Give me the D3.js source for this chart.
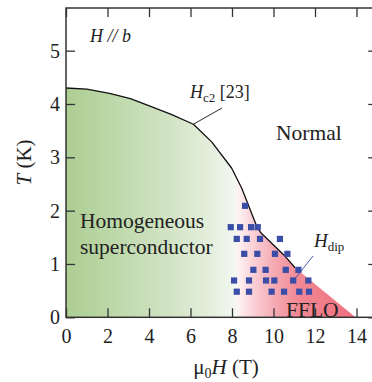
<!DOCTYPE html>
<html>
<head>
<meta charset="utf-8">
<script src="https://cdn.jsdelivr.net/npm/d3@7"></script>
<style>
  html, body { margin: 0; padding: 0; background: #fff; }
  svg { display: block; }
</style>
</head>
<body>
<svg id="chart" width="372" height="382"></svg>
<script>
// Upper critical field Hc2(T) for H // b  (field in tesla, temperature in kelvin)
const hc2Field = [0, 1.0, 2.1, 3.1, 4.05, 5.1, 6.14, 7.02, 7.98, 8.47, 9.2, 9.4, 10.5, 11.04];
const hc2Temp  = [4.3, 4.28, 4.2, 4.1, 3.96, 3.8, 3.62, 3.29, 2.80, 2.42, 1.70, 1.58, 1.17, 0.93];

// FFLO phase boundary continues down to zero temperature
const ffloEdgeField = [11.04, 13.95];
const ffloEdgeTemp  = [0.93, 0];

// Positions of the dip field Hdip
const dipField = [8.63,
  7.94, 8.39, 8.92, 9.24,
  8.23, 8.71, 9.35, 10.31,
  8.59, 9.22, 10.07, 10.67,
  9.03, 9.62, 10.59, 11.2,
  8.10, 8.82, 9.64, 10.04, 10.95, 11.68,
  8.23, 8.82, 9.91, 10.51, 11.24, 11.71];
const dipTemp = [2.09,
  1.69, 1.69, 1.69, 1.69,
  1.47, 1.47, 1.47, 1.47,
  1.19, 1.19, 1.19, 1.19,
  0.89, 0.89, 0.89, 0.89,
  0.69, 0.69, 0.69, 0.69, 0.69, 0.69,
  0.48, 0.48, 0.48, 0.48, 0.48, 0.48];

const xTicks = [0, 2, 4, 6, 8, 10, 12, 14];
const yTicks = [0, 1, 2, 3, 4, 5];

const serif = "Liberation Serif";
const margin = { left: 66, top: 8 };
const W = 311.25, H = 309.3;

const svg = d3.select("#chart");
const g = svg.append("g").attr("transform", `translate(${margin.left},${margin.top})`);

const x = d3.scaleLinear().domain([0, 15]).range([0, W]);
const y = d3.scaleLinear().domain([0, 5.8]).range([H, 0]);

function txt(sel, size, italic) {
  return sel.style("font-family", `"${serif}"`).style("font-size", size + "px")
    .style("font-style", italic ? "italic" : "normal").attr("fill", "#222");
}

// Horizontal colour ramp: green superconductor -> pale -> pink/red FFLO
const defs = svg.append("defs");
const grad = defs.append("linearGradient")
  .attr("id", "phase")
  .attr("gradientUnits", "userSpaceOnUse")
  .attr("x1", x(0)).attr("x2", x(14)).attr("y1", 0).attr("y2", 0);
[
  [0.00, "#adce93"],
  [0.15, "#bbd7a7"],
  [0.35, "#d1e3c4"],
  [0.50, "#e4efdd"],
  [0.585, "#f4f8f1"],
  [0.592, "#fdf3f4"],
  [0.64, "#fad3d8"],
  [0.72, "#f5a9b2"],
  [0.80, "#f18894"],
  [1.00, "#ef6f7d"]
].forEach(([o, c]) => grad.append("stop").attr("offset", o).attr("stop-color", c));

// Filled phase region under the boundary
const boundary = hc2Field.map((f, i) => [f, hc2Temp[i]])
  .concat(ffloEdgeField.slice(1).map((f, i) => [f, ffloEdgeTemp[i + 1]]));
const area = d3.area().x(d => x(d[0])).y0(y(0)).y1(d => y(d[1]));
g.append("path").datum(boundary).attr("d", area).attr("fill", "url(#phase)");

// Hc2 line
const line = d3.line().x(d => x(d[0])).y(d => y(d[1]));
g.append("path")
  .datum(hc2Field.map((f, i) => [f, hc2Temp[i]]))
  .attr("d", line)
  .attr("fill", "none")
  .attr("stroke", "#111")
  .attr("stroke-width", 1.3)
  .attr("stroke-linejoin", "round");

// Hdip markers
const sq = 6.2;
g.selectAll("rect.dip")
  .data(dipField.map((f, i) => [f, dipTemp[i]]))
  .join("rect")
  .attr("class", "dip")
  .attr("x", d => x(d[0]) - sq / 2)
  .attr("y", d => y(d[1]) - sq / 2)
  .attr("width", sq).attr("height", sq)
  .attr("fill", "#3a4ea8");

// Axes (ticks point inward)
const axisColor = "#333";
function styleAxis(sel) {
  sel.attr("font-family", null).attr("font-size", null);
  sel.select(".domain").remove();
  sel.selectAll(".tick line").attr("stroke", axisColor).attr("stroke-width", 1.3);
  txt(sel.selectAll(".tick text"), 20, false);
}
g.append("g").attr("transform", `translate(0,${H})`)
  .call(d3.axisBottom(x).tickValues(xTicks).tickSize(-9).tickPadding(12).tickFormat(d3.format("d")))
  .call(styleAxis);
g.append("g")
  .call(d3.axisTop(x).tickValues(xTicks).tickSize(-9).tickFormat(""))
  .call(styleAxis);
g.append("g")
  .call(d3.axisLeft(y).tickValues(yTicks).tickSize(-9).tickPadding(6).tickFormat(d3.format("d")))
  .call(styleAxis);
g.append("g").attr("transform", `translate(${W},0)`)
  .call(d3.axisRight(y).tickValues(yTicks).tickSize(-9).tickFormat(""))
  .call(styleAxis);

// Frame
g.append("rect").attr("x", 0).attr("y", 0).attr("width", W).attr("height", H)
  .attr("fill", "none").attr("stroke", axisColor).attr("stroke-width", 1.5);

// Axis titles
const xt = txt(svg.append("text"), 21, false)
  .attr("x", 226).attr("y", 374)
  .attr("text-anchor", "middle");
xt.append("tspan").text("μ");
xt.append("tspan").attr("dy", 4).style("font-size", "14px").text("0");
xt.append("tspan").attr("dy", -4).style("font-style", "italic").text("H");
xt.append("tspan").text(" (T)");

const yt = txt(svg.append("text"), 21, false)
  .attr("transform", "translate(31,162.5) rotate(-90)")
  .attr("text-anchor", "middle");
yt.append("tspan").style("font-style", "italic").text("T");
yt.append("tspan").text(" (K)");

// Annotations
const ann = g.append("g");
txt(ann.append("text"), 18, true)
  .attr("x", 90 - margin.left).attr("y", 42 - margin.top)
  .text("H // b");

txt(ann.append("text"), 21.5, false)
  .attr("x", 276 - margin.left).attr("y", 140 - margin.top)
  .text("Normal");

const homo = txt(ann.append("text"), 21.5, false);
homo.append("tspan").attr("x", 80 - margin.left).attr("y", 228 - margin.top).text("Homogeneous");
homo.append("tspan").attr("x", 80 - margin.left).attr("y", 254 - margin.top).text("superconductor");

txt(ann.append("text"), 21.5, false)
  .attr("x", 286 - margin.left).attr("y", 317 - margin.top)
  .text("FFLO");

// Hc2 label with leader line
const hc2Label = txt(ann.append("text"), 18, false)
  .attr("x", 190 - margin.left).attr("y", 98 - margin.top);
hc2Label.append("tspan").style("font-style", "italic").text("H");
hc2Label.append("tspan").attr("dy", 4).style("font-size", "13px").text("c2");
hc2Label.append("tspan").attr("dy", -4).text(" [23]");
ann.append("line")
  .attr("x1", 222 - margin.left).attr("y1", 108 - margin.top)
  .attr("x2", x(hc2Field[6])).attr("y2", y(hc2Temp[6]))
  .attr("stroke", "#111").attr("stroke-width", 0.9);

// Hdip label with leader line
const dipLabel = txt(ann.append("text"), 19, false)
  .attr("x", 314 - margin.left).attr("y", 247 - margin.top);
dipLabel.append("tspan").style("font-style", "italic").text("H");
dipLabel.append("tspan").attr("dy", 4).style("font-size", "13px").text("dip");
ann.append("line")
  .attr("x1", 313 - margin.left).attr("y1", 256 - margin.top)
  .attr("x2", x(dipField[21]) + 2).attr("y2", y(dipTemp[21]) - 2)
  .attr("stroke", "#3a4ea8").attr("stroke-width", 0.9);
</script>
</body>
</html>
